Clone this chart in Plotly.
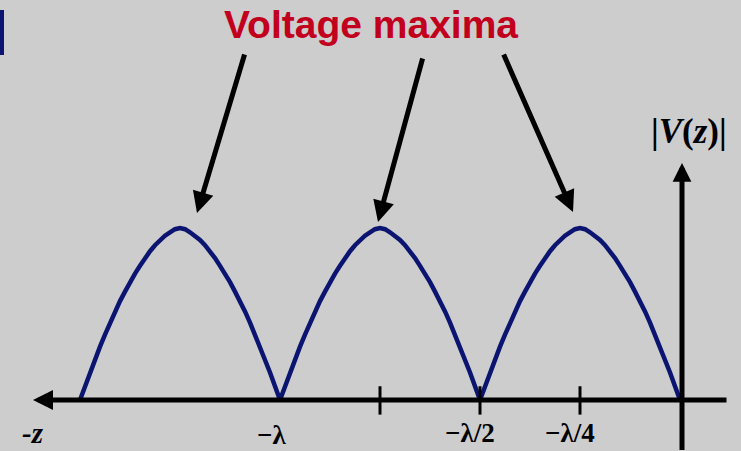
import plotly.graph_objects as go

# ---- data (z in units of wavelength, |V| normalised to the maxima) ----
zero_positions = [-1.5, -1.0, -0.5, 0.0]          # voltage minima (zeros)
maxima_positions = [-1.25, -0.75, -0.25]          # voltage maxima
hump_fraction = [0.0, 0.025, 0.05, 0.075, 0.1, 0.125, 0.15, 0.175, 0.2, 0.225,
                 0.25, 0.275, 0.3, 0.325, 0.35, 0.375, 0.4, 0.425, 0.45, 0.475,
                 0.5, 0.525, 0.55, 0.575, 0.6, 0.625, 0.65, 0.675, 0.7, 0.725,
                 0.75, 0.775, 0.8, 0.825, 0.85, 0.875, 0.9, 0.925, 0.95, 0.975, 1.0]
hump_value = [0.0, 0.08, 0.16, 0.235, 0.31, 0.38, 0.45, 0.515, 0.575, 0.63,
              0.685, 0.735, 0.78, 0.825, 0.865, 0.9, 0.93, 0.955, 0.975, 0.993,
              1.0, 0.993, 0.975, 0.955, 0.93, 0.9, 0.865, 0.825, 0.78, 0.735,
              0.685, 0.63, 0.575, 0.515, 0.45, 0.38, 0.31, 0.235, 0.16, 0.08, 0.0]
tick_positions = [-0.75, -0.5, -0.25]
axis_labels = ["−λ", "−λ/2", "−λ/4"]
axis_label_pos = [-1.0, -0.5, -0.25]
title_text = "Voltage maxima"

half_wave = 0.5

# build curve (separate humps, gaps keep the cusps sharp)
xs, ys = [], []
for z0 in zero_positions[:-1]:
    for f, v in zip(hump_fraction, hump_value):
        xs.append(z0 + f * half_wave)
        ys.append(v)
    xs.append(None)
    ys.append(None)

fig = go.Figure()
fig.add_trace(go.Scatter(x=xs, y=ys, mode="lines",
                         line=dict(color="#0b1470", width=4.5, shape="linear"),
                         hoverinfo="skip", showlegend=False))

BLACK = "#000000"
annotations = []
shapes = []

# x axis with arrow pointing left
annotations.append(dict(x=-1.6175, y=0, ax=0.12, ay=0, xref="x", yref="y",
                        axref="x", ayref="y", text="", showarrow=True,
                        arrowhead=2, arrowsize=0.8, arrowwidth=5, arrowcolor=BLACK,
                        standoff=0, startstandoff=0))
# y axis with arrow pointing up
annotations.append(dict(x=0.005, y=1.378, ax=0.005, ay=-0.3, xref="x", yref="y",
                        axref="x", ayref="y", text="", showarrow=True,
                        arrowhead=2, arrowsize=0.75, arrowwidth=5, arrowcolor=BLACK,
                        standoff=0, startstandoff=0))

# ticks
for t in tick_positions:
    shapes.append(dict(type="line", xref="x", yref="y", x0=t, x1=t,
                       y0=-0.085, y1=0.08, line=dict(color=BLACK, width=3)))

# tick labels
label_font = dict(family="Liberation Serif, Times New Roman, serif", size=27, color=BLACK)
for lab, pos in zip(axis_labels, axis_label_pos):
    annotations.append(dict(x=pos, y=-0.205 if pos == -1.0 else -0.19, xref="x", yref="y",
                            text="<b>%s</b>" % lab,
                            showarrow=False, font=label_font, xshift=-9 if pos == -1.0 else -10,
                            xanchor="center", yanchor="middle"))
annotations.append(dict(x=-1.6175, y=-0.19, xref="x", yref="y", text="<b><i>-z</i></b>",
                        showarrow=False,
                        font=dict(family="Liberation Serif, Times New Roman, serif", size=29, color=BLACK),
                        xshift=0, xanchor="center", yanchor="middle"))

# |V(z)| label
annotations.append(dict(x=0.0225, y=1.56, xref="x", yref="y",
                        text="<b>|<i>V</i>(<i>z</i>)|</b>", showarrow=False,
                        font=dict(family="Liberation Serif, Times New Roman, serif", size=35, color=BLACK),
                        xanchor="center", yanchor="middle"))

# title
annotations.append(dict(x=0.5007, y=0.945, xref="paper", yref="paper",
                        text="<b>%s</b>" % title_text, showarrow=False,
                        font=dict(family="Liberation Sans, Arial, sans-serif", size=39, color="#c2001e"),
                        xanchor="center", yanchor="middle"))

# arrows from the title to the maxima
arrow_tips = [(-1.2075, 1.087), (-0.755, 1.035), (-0.2675, 1.093)]
arrow_tails = [(-1.0875, 2.017), (-0.6425, 1.994), (-0.4425, 2.017)]
for (tx, ty), (ax_, ay_) in zip(arrow_tips, arrow_tails):
    annotations.append(dict(x=tx, y=ty, ax=ax_, ay=ay_, xref="x", yref="y",
                            axref="x", ayref="y", text="", showarrow=True,
                            arrowhead=2, arrowsize=0.85, arrowwidth=5, arrowcolor=BLACK,
                            standoff=0, startstandoff=0))

# small navy bar at left edge
shapes.append(dict(type="rect", xref="paper", yref="paper",
                   x0=0, x1=4 / 741, y0=1 - 55 / 451, y1=1 - 10 / 451,
                   fillcolor="#0b1470", line=dict(width=0)))

fig.update_layout(
    width=741, height=451,
    margin=dict(l=0, r=0, t=0, b=0),
    paper_bgcolor="#cdcdcd", plot_bgcolor="#cdcdcd",
    xaxis=dict(range=[-1.7, 0.1525], visible=False, fixedrange=True),
    yaxis=dict(range=[-51 / 172, 400 / 172], visible=False, fixedrange=True),
    annotations=annotations, shapes=shapes,
    showlegend=False,
)

fig.write_html("out.html", config={"displayModeBar": False},
               post_script="document.body.style.margin='0';document.body.style.padding='0';"
                           "document.body.style.overflow='hidden';document.body.style.background='#cdcdcd';")
